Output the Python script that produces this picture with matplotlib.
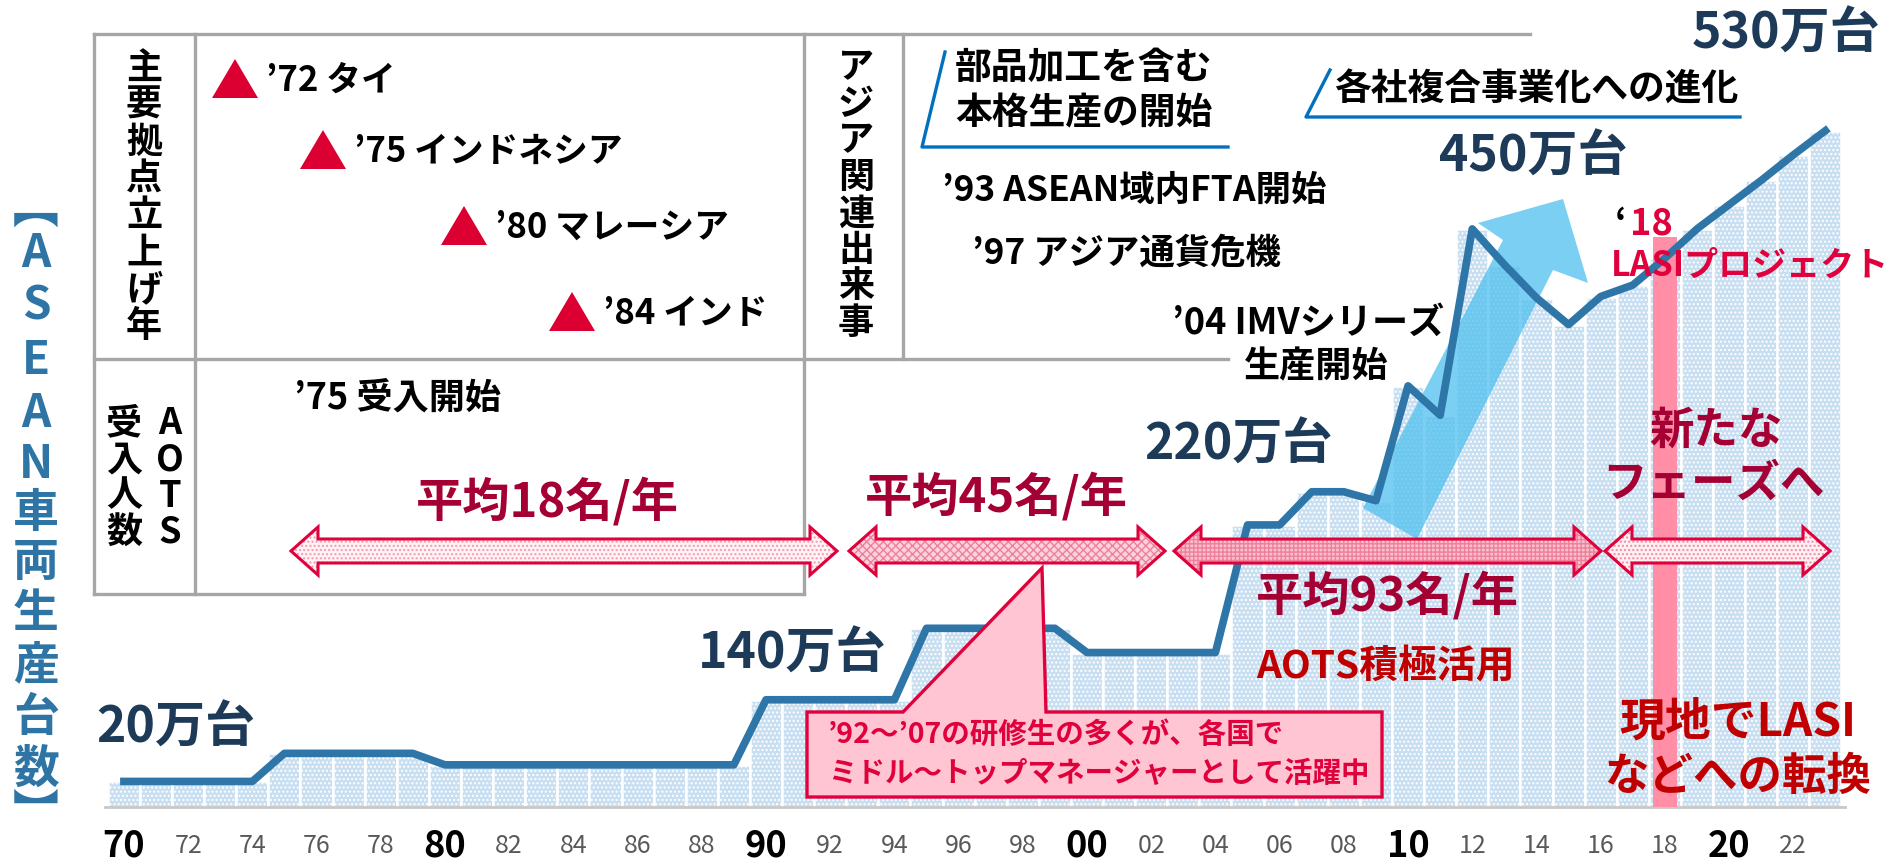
import numpy as np
import matplotlib
matplotlib.use("Agg")
import matplotlib.pyplot as plt
from matplotlib.patches import Polygon

plt.rcParams['font.family'] = ['Noto Sans CJK JP', 'DejaVu Sans']
plt.rcParams['hatch.linewidth'] = 1.0

# ASEAN vehicle production (万台)
years = list(range(1970, 2024))
production = ([20] * 5 + [42] * 5 + [33] * 10 + [84] * 5 + [140] * 5 + [121] * 5
              + [221, 221, 247, 247, 240]
              + [330, 307, 453, 425, 399, 378, 400, 409, 430, 453, 472, 491, 511, 530])

major_ticks = [1970, 1980, 1990, 2000, 2010, 2020]
major_labels = ["70", "80", "90", "00", "10", "20"]
minor_ticks = [y for y in range(1972, 2023, 2) if y % 10]
minor_labels = [f"{y % 100:02d}" for y in minor_ticks]

lasi_year = 2018

W, H = 1888, 865
fig = plt.figure(figsize=(W / 100, H / 100), dpi=100)
ax = fig.add_axes([0, 0, 1, 1])
ax.set_xlim(1966.14, 2024.95)
ax.set_ylim(-45.5, 632.4)
ax.axis("off")
TF = fig.transFigure


def P(x, y):
    return (x / W, 1 - y / H)


def txt(x, y, s, size, color="black", ha="left", va="center", weight="bold", **kw):
    ax.text(*P(x, y), s, transform=TF, fontsize=size, color=color, ha=ha, va=va,
            fontweight=weight, zorder=10, **kw)


def vtext(chars, x, ys, size, color="black"):
    for c, y in zip(chars, ys):
        txt(x, y, c, size, color, ha="center")


def poly(pts, zorder=5, **kw):
    p = Polygon([P(*q) for q in pts], closed=True, transform=TF, clip_on=False,
                zorder=zorder, **kw)
    ax.add_patch(p)
    return p


# ---- bars + line --------------------------------------------------------
ax.bar(years, production, width=1.0, color="#c8def1", edgecolor="white",
       linewidth=1.8, hatch="....", zorder=1)
ax.plot([1969.4, 2023.6], [0, 0], color="#c8c8c8", lw=2, zorder=1.5)
ax.fill_between([lasi_year - 0.38, lasi_year + 0.38], 0, 447, color="#ff8ea6",
                zorder=2, lw=0)

# big sky-blue arrow
poly([(1363, 508), (1503, 240), (1478, 223), (1563, 199), (1588, 283),
      (1553, 270), (1417, 539)], zorder=2.5, facecolor="#4fc0ee", alpha=0.75,
     edgecolor="none")

ax.plot(years, production, color="#2e75a8", lw=5.5, zorder=3,
        solid_joinstyle="round")

# x tick labels
for t, lab in zip(major_ticks, major_labels):
    ax.text(t, -30.5, lab, ha="center", va="center", fontsize=26,
            fontweight="bold", color="black")
for t, lab in zip(minor_ticks, minor_labels):
    ax.text(t, -30.5, lab, ha="center", va="center", fontsize=18,
            color="#595959")

# ---- table frame ---------------------------------------------------------
g = dict(color="#a6a6a6", lw=2.4, transform=TF, zorder=4, clip_on=False)
segs = [((94, 34), (1530, 34)), ((94, 34), (94, 594)), ((195, 34), (195, 594)),
        ((804, 34), (804, 594)), ((903, 34), (903, 359)),
        ((94, 359), (1228, 359)), ((94, 594), (804, 594))]
for a, b in segs:
    ax.plot(*zip(P(*a), P(*b)), **g)

# left vertical title
title_chars = ["︻", "A", "S", "E", "A", "N", "車", "両", "生", "産", "台", "数", "︼"]
title_ys = [210, 254, 307, 361, 414, 465, 514, 563, 614, 666, 718, 770, 815]
vtext(title_chars, 36, title_ys, 33, "#2e75a6")

# cell labels
vtext(list("主要拠点立上げ年"), 144, [68 + 37 * i for i in range(8)], 26)
vtext(list("アジア関連出来事"), 856, [68 + 36.5 * i for i in range(8)], 26)
vtext(list("受入人数"), 124, [424 + 36 * i for i in range(4)], 26)
vtext(list("AOTS"), 170, [424 + 36 * i for i in range(4)], 26)

# base launch years
RED = "#dc0032"
for (tx, ty), s in zip([(212, 59), (300, 130), (441, 206), (549, 292)],
                       ["’72 タイ", "’75 インドネシア", "’80 マレーシア", "’84 インド"]):
    poly([(tx, ty + 39), (tx + 23, ty), (tx + 46, ty + 39)], facecolor=RED,
         edgecolor="none", zorder=6)
    txt(tx + 54, ty + 21, s, 25)

txt(294, 398, "’75 受入開始", 26)

# blue underlined notes
BLUE = "#0070c0"
b = dict(color=BLUE, lw=2.4, transform=TF, zorder=6, clip_on=False)
ax.plot(*zip(P(945, 52), P(922, 147), P(1228, 147)), **b)
txt(955, 68, "部品加工を含む", 26.5)
txt(955, 114, "本格生産の開始", 26.5)
ax.plot(*zip(P(1330, 70), P(1306, 117), P(1740, 117)), **b)
txt(1334, 90, "各社複合事業化への進化", 26.5)

txt(942, 190, "’93 ASEAN域内FTA開始", 25.5)
txt(972, 253, "’97 アジア通貨危機", 25.5)
txt(1172, 323, "’04 IMVシリーズ", 26)
txt(1244, 367, "生産開始", 26)

# value labels
NAVY = "#1d3b58"
for x, y, s in [(96, 728, "20万台"), (698, 654, "140万台"), (1144, 445, "220万台"),
                (1439, 157, "450万台"), (1692, 34, "530万台")]:
    txt(x, y, s, 36, NAVY)

# ---- double arrows -------------------------------------------------------
def darrow(x0, x1, yc, face, hatch, hcol):
    hl, hh, sh = 27, 24, 12
    pts = [(x0, yc), (x0 + hl, yc - hh), (x0 + hl, yc - sh), (x1 - hl, yc - sh),
           (x1 - hl, yc - hh), (x1, yc), (x1 - hl, yc + hh), (x1 - hl, yc + sh),
           (x0 + hl, yc + sh), (x0 + hl, yc + hh)]
    poly(pts, zorder=6, facecolor=face, edgecolor=hcol, hatch=hatch, lw=0)
    poly(pts, zorder=6.1, fill=False, edgecolor="#e0003c", lw=2.2)


darrow(291, 837, 551, "#fff3f6", "....", "#f29ab0")
darrow(849, 1165, 551, "#fbd3dd", "xxxx", "#ee7f9a")
darrow(1174, 1601, 551, "#f9c0ce", "++++", "#ef7f9b")
darrow(1605, 1830, 551, "#fff0f4", "....", "#f08aa3")

DRED = "#a50034"
txt(416, 502, "平均18名/年", 34, DRED)
txt(865, 497, "平均45名/年", 34, DRED)
txt(1256, 596, "平均93名/年", 34, DRED)
txt(1256, 666, "AOTS積極活用", 28, "#c00000")
txt(1716, 431, "新たな", 32, DRED, ha="center")
txt(1713, 484, "フェーズへ", 32, DRED, ha="center")
txt(1738, 722, "現地でLASI", 33, "#c00000", ha="center")
txt(1738, 777, "などへの転換", 32, "#c00000", ha="center")

# '18 LASI project
txt(1615, 224, "‘", 26, "black")
txt(1630, 224, "18", 26, "#e0003c")
txt(1611, 265, "LASIプロジェクト", 24.5, "#e0003c")

# callout
poly([(807, 712), (903, 712), (1042, 568), (1046, 712), (1382, 712),
      (1382, 797), (807, 797)], zorder=7, facecolor="#ffc5d2",
     edgecolor="#e0003c", lw=2.4)
txt(828, 735, "’92～’07の研修生の多くが、各国で", 20.5, "#e0003c")
txt(828, 774, "ミドル～トップマネージャーとして活躍中", 20.5, "#e0003c")

fig.savefig("out.png", dpi=100)
